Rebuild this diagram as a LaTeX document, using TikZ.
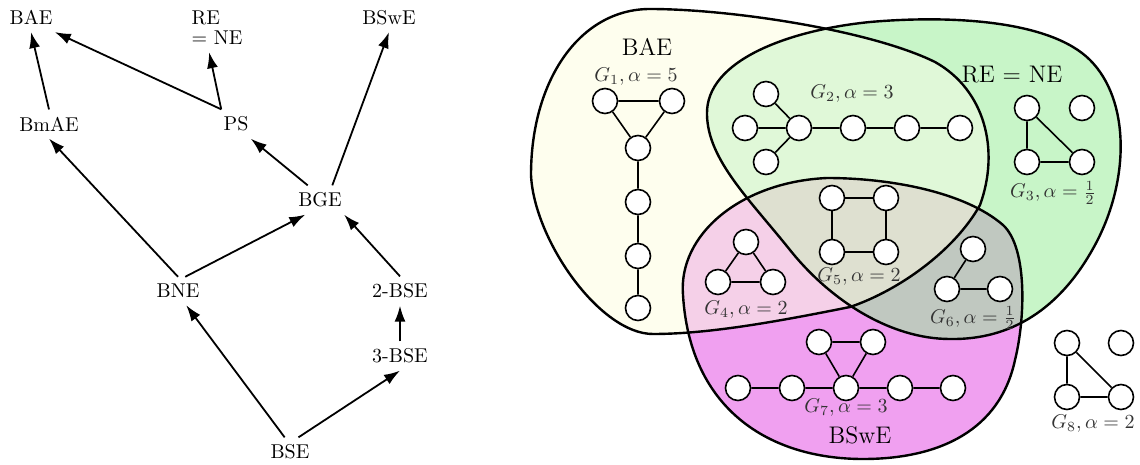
\documentclass[tikz,border=0pt]{standalone}
\usetikzlibrary{arrows.meta}
\definecolor{cA}{RGB}{254,254,238}
\definecolor{cR}{RGB}{200,245,200}
\definecolor{cS}{RGB}{240,160,240}
\definecolor{cAR}{RGB}{224,248,216}
\definecolor{cAS}{RGB}{245,208,232}
\definecolor{cRS}{RGB}{192,200,192}
\definecolor{cARS}{RGB}{222,224,208}
\begin{document}
\begin{tikzpicture}[x=0.5pt,y=-0.5pt,
  cls/.style={inner xsep=1pt, inner ysep=3.5pt},
  arr/.style={-{Latex[length=8pt,width=5.5pt]}, line width=0.9pt},
  gv/.style={circle, draw, fill=white, line width=0.8pt, minimum size=12.5pt, inner sep=0pt},
  ge/.style={line width=0.8pt},
  glab/.style={text=black!80, inner sep=0pt},
  setlab/.style={font=\large, inner sep=0pt},
  blob/.style={line width=1.2pt}]
\useasboundingbox (0,0) rectangle (1140,465);

% ---------------- left: implication graph ----------------
\node[cls] (BAE)  at (31,17.5)  {BAE};
\node[cls, align=left] (RE) at (217,28) {RE\\[-2pt]$=$ NE};
\node[cls] (BSwE) at (389,17.5) {BSwE};
\node[cls] (BmAE) at (49,124)  {BmAE};
\node[cls] (PS)   at (236,124) {PS};
\node[cls] (BGE)  at (320,200) {BGE};
\node[cls] (BNE)  at (178,291) {BNE};
\node[cls] (BSE2) at (400,291) {2-BSE};
\node[cls] (BSE3) at (400,356) {3-BSE};
\node[cls] (BSE)  at (290,452) {BSE};

\draw[arr] (BmAE.north) -- (BAE.south);
\draw[arr] (PS.north west) -- (BAE.south east);
\draw[arr] (PS.north west) -- (RE.252);
\draw[arr] (BGE.130) -- (PS.south east);
\draw[arr] (BGE.50) -- (BSwE.south);
\draw[arr] (BNE.north) -- (BmAE.south);
\draw[arr] (BNE.63) -- (BGE.225);
\draw[arr] (BSE2.north) -- (BGE.south east);
\draw[arr] (BSE3) -- (BSE2);
\draw[arr] (BSE.110) -- (BNE.-60);
\draw[arr] (BSE.60) -- (BSE3.south);

% ---------------- right: Venn diagram ----------------
\def\pA{(531,175) .. controls (531,80) and (580,9) .. (650,9)
  .. controls (730,9) and (870,30) .. (935,62)
  .. controls (985,90) and (1000,150) .. (980,205)
  .. controls (955,250) and (900,290) .. (850,307)
  .. controls (780,321) and (710,334) .. (653,334)
  .. controls (600,334) and (534,240) .. (531,175) -- cycle}
\def\pR{(707,115) .. controls (705,60) and (790,30) .. (870,22)
  .. controls (950,15) and (1050,20) .. (1090,60)
  .. controls (1130,100) and (1130,180) .. (1095,245)
  .. controls (1060,310) and (1010,340) .. (950,339)
  .. controls (890,339) and (830,300) .. (790,250)
  .. controls (750,200) and (708,160) .. (707,115) -- cycle}
\def\pS{(683,295) .. controls (678,235) and (740,182) .. (827,178)
  .. controls (890,178) and (965,192) .. (1003,225)
  .. controls (1028,248) and (1025,320) .. (1015,360)
  .. controls (1000,430) and (940,459) .. (863,459)
  .. controls (770,459) and (690,410) .. (683,295) -- cycle}

\fill[cA] \pA;
\fill[cR] \pR;
\fill[cS] \pS;
\begin{scope} \clip \pA; \fill[cAR] \pR; \end{scope}
\begin{scope} \clip \pA; \fill[cAS] \pS; \end{scope}
\begin{scope} \clip \pR; \fill[cRS] \pS; \end{scope}
\begin{scope} \clip \pA; \clip \pR; \fill[cARS] \pS; \end{scope}
\draw[blob] \pA;
\draw[blob] \pR;
\draw[blob] \pS;

\node[setlab] (lA) at (647,47) {BAE};
\node[setlab] (lR) at (1012,75) {RE $=$ NE};
\node[setlab] (lS) at (860,435) {BSwE};

% G1
\node[gv] (a1) at (605,101) {};
\node[gv] (a2) at (672,101) {};
\node[gv] (a3) at (638,148) {};
\node[gv] (a4) at (638,202) {};
\node[gv] (a5) at (638,256) {};
\node[gv] (a6) at (638,308) {};
\draw[ge] (a1) -- (a2) (a1) -- (a3) (a2) -- (a3) (a3) -- (a4) (a4) -- (a5) (a5) -- (a6);
\node[glab] (g1) at (636,77) {$G_1, \alpha = 5$};

% G2
\node[gv] (b0) at (799,128) {};
\node[gv] (b1) at (745,128) {};
\node[gv] (b2) at (766,94) {};
\node[gv] (b3) at (766,162) {};
\node[gv] (b4) at (853,128) {};
\node[gv] (b5) at (907,128) {};
\node[gv] (b6) at (960,128) {};
\draw[ge] (b0) -- (b1) (b0) -- (b2) (b0) -- (b3) (b0) -- (b4) (b4) -- (b5) (b5) -- (b6);
\node[glab] (g2) at (852,94) {$G_2, \alpha = 3$};

% G3
\node[gv] (c1) at (1027,108) {};
\node[gv] (c2) at (1082,108) {};
\node[gv] (c3) at (1027,162) {};
\node[gv] (c4) at (1082,162) {};
\draw[ge] (c1) -- (c3) (c1) -- (c4) (c3) -- (c4);
\node[glab] (g3) at (1053,193) {$G_3, \alpha = \frac{1}{2}$};

% G4
\node[gv] (d1) at (746,242) {};
\node[gv] (d2) at (718,282) {};
\node[gv] (d3) at (773,282) {};
\draw[ge] (d1) -- (d2) (d1) -- (d3) (d2) -- (d3);
\node[glab] (g4) at (746,310) {$G_4, \alpha = 2$};

% G5
\node[gv] (e1) at (832,198) {};
\node[gv] (e2) at (886,198) {};
\node[gv] (e3) at (832,252) {};
\node[gv] (e4) at (886,252) {};
\draw[ge] (e1) -- (e2) (e2) -- (e4) (e4) -- (e3) (e3) -- (e1);
\node[glab] (g5) at (859,277) {$G_5, \alpha = 2$};

% G6
\node[gv] (f1) at (973,249) {};
\node[gv] (f2) at (947,289) {};
\node[gv] (f3) at (1000,289) {};
\draw[ge] (f1) -- (f2) (f2) -- (f3);
\node[glab] (g6) at (973,318) {$G_6, \alpha = \frac{1}{2}$};

% G7
\node[gv] (h1) at (819,342) {};
\node[gv] (h2) at (873,342) {};
\node[gv] (h3) at (738,388) {};
\node[gv] (h4) at (792,388) {};
\node[gv] (h5) at (846,388) {};
\node[gv] (h6) at (900,388) {};
\node[gv] (h7) at (953,388) {};
\draw[ge] (h1) -- (h2) (h1) -- (h5) (h2) -- (h5) (h3) -- (h4) (h4) -- (h5) (h5) -- (h6) (h6) -- (h7);
\node[glab] (g7) at (846,408) {$G_7, \alpha = 3$};

% G8
\node[gv] (k1) at (1067,343) {};
\node[gv] (k2) at (1121,343) {};
\node[gv] (k3) at (1067,397) {};
\node[gv] (k4) at (1121,397) {};
\draw[ge] (k1) -- (k3) (k1) -- (k4) (k3) -- (k4);
\node[glab] (g8) at (1093,424) {$G_8, \alpha = 2$};
\end{tikzpicture}
\end{document}
